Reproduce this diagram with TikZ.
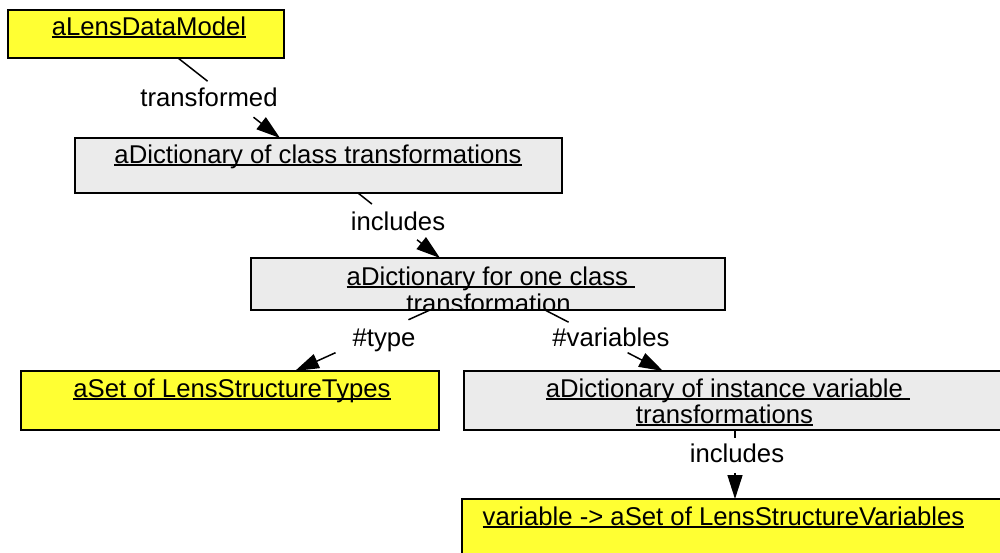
\documentclass[tikz,border=0pt]{standalone}
\usepackage{fontspec}
\setmainfont{Liberation Sans}
\usetikzlibrary{arrows.meta,calc}
\definecolor{objyellow}{HTML}{FFFF33}
\definecolor{objgray}{HTML}{EBEBEB}
\newcommand\myul[1]{\setbox0=\hbox{#1}\rlap{\rule[-2.8pt]{\wd0}{1.4pt}}\box0}
\begin{document}
\begin{tikzpicture}[x=1pt,y=-1pt,
  box/.style={draw=black, line width=1.8pt, inner sep=0pt, outer sep=0pt, anchor=north west},
  ybox/.style={box, fill=objyellow},
  gbox/.style={box, fill=objgray},
  txt/.style={anchor=base, inner sep=0pt, font=\fontsize{25.7}{30}\selectfont},
  lbl/.style={anchor=base, inner sep=0pt, font=\fontsize{25.7}{30}\selectfont},
  edge/.style={line width=1.5pt, -{Triangle[length=24pt,width=15pt]}}]
\useasboundingbox (0,0) rectangle (1000,552);
\clip (0,0) rectangle (1000,552);
\fill[white] (0,0) rectangle (1000,552);
% boxes
\node[ybox, minimum width=276pt, minimum height=48pt] (b1) at (8,10) {};
\node[gbox, minimum width=487pt, minimum height=55pt] (b2) at (75,138) {};
\node[gbox, minimum width=474pt, minimum height=52pt] (b3) at (251,258) {};
\node[ybox, minimum width=418pt, minimum height=59pt] (b4) at (21,371) {};
\node[gbox, minimum width=546pt, minimum height=59pt] (b5) at (464,371) {};
\node[ybox, minimum width=548pt, minimum height=80pt] (b6) at (462,499) {};
% texts
\node[txt] (t1) at (149,35) {\myul{aLensDataModel}};
\node[txt] (t2) at (318,163) {\myul{aDictionary of class transformations}};
\begin{scope}
\clip (b3.south west) rectangle (b3.north east);
\node[txt] (t3a) at (491,285) {\myul{aDictionary for one class\ }};
\node[txt] (t3b) at (488.5,312) {\myul{transformation}};
\end{scope}
\draw[line width=1.8pt] (b3.south west) -- (b3.south east);
\node[txt] (t4) at (232,397) {\myul{aSet of LensStructureTypes}};
\node[txt] (t5a) at (728,397) {\myul{aDictionary of instance variable\ }};
\node[txt] (t5b) at (724.5,423) {\myul{transformations}};
\node[txt] (t6) at (723.5,525) {\myul{variable -> aSet of LensStructureVariables}};
% connector end points
\coordinate (s1) at (178,0 |- b1.south); \coordinate (e1) at (280,0 |- b2.north);
\coordinate (s2) at (358,0 |- b2.south); \coordinate (e2) at (440,0 |- b3.north);
\coordinate (s3) at (430,0 |- b3.south); \coordinate (e3) at (295,0 |- b4.north);
\coordinate (s4) at (545,0 |- b3.south); \coordinate (e4) at (663,0 |- b5.north);
\coordinate (s5) at (735,0 |- b5.south); \coordinate (e5) at (735,0 |- b6.north);
% connectors, broken around their labels
\draw[edge] (s1) -- ($(s1)!0.29!(e1)$) ($(s1)!0.74!(e1)$) -- (e1);
\draw[edge] (s2) -- ($(s2)!0.17!(e2)$) ($(s2)!0.72!(e2)$) -- (e2);
\draw[edge] (s3) -- ($(s3)!0.16!(e3)$) ($(s3)!0.70!(e3)$) -- (e3);
\draw[edge] (s4) -- ($(s4)!0.20!(e4)$) ($(s4)!0.70!(e4)$) -- (e4);
\draw[edge] (s5) -- ($(s5)!0.12!(e5)$) ($(s5)!0.62!(e5)$) -- (e5);
% labels
\node[lbl] (l1) at (209,106) {transformed};
\node[lbl] (l2) at (398,230) {includes};
\node[lbl] (l3) at (384,346) {\#type};
\node[lbl] (l4) at (611,346) {\#variables};
\node[lbl] (l5) at (737,462) {includes};
\end{tikzpicture}
\end{document}
